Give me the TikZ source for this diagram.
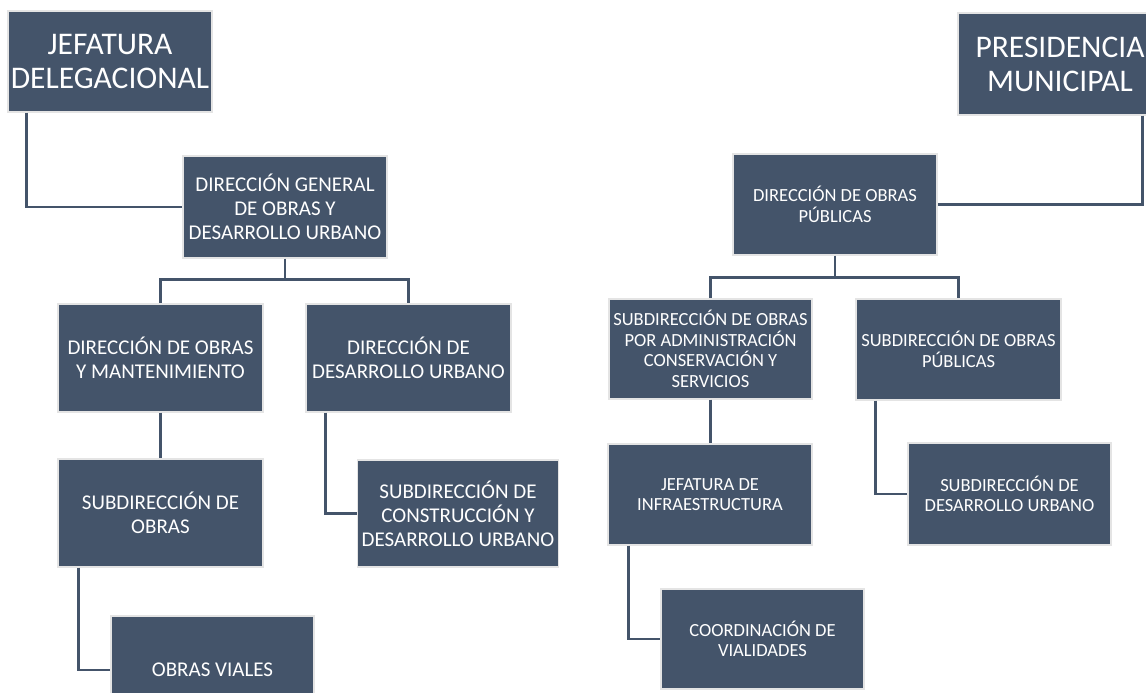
\documentclass[tikz,border=0pt]{standalone}
\usepackage{fontspec}
\setmainfont{Carlito}
\definecolor{boxfill}{HTML}{44546A}
\definecolor{boxedge}{HTML}{E4E4E4}
\definecolor{linecol}{HTML}{44546A}
\tikzset{
  orgbox/.style={rectangle, fill=boxfill, draw=boxedge, line width=1.4pt, text=white,
     align=center, inner sep=0pt, anchor=center},
  bigtxt/.style={font=\fontsize{31.5}{34}\selectfont},
  midtxt/.style={font=\fontsize{21}{24}\selectfont},
  smalltxt/.style={font=\fontsize{18.5}{20.5}\selectfont},
  wire/.style={draw=linecol, line width=2.6pt}
}
\begin{document}
\begin{tikzpicture}[x=1pt,y=-1pt]
\useasboundingbox (0,0) rectangle (1146,693);
\clip (0,0) rectangle (1146,693);
% left tree
\node[orgbox,bigtxt,minimum width=204pt,minimum height=101pt] (jd) at (110,61.5) {JEFATURA\\DELEGACIONAL};
\node[orgbox,midtxt,minimum width=204pt,minimum height=102pt] (dg) at (285,207) {DIRECCIÓN GENERAL\\DE OBRAS Y\\DESARROLLO URBANO};
\node[orgbox,midtxt,minimum width=205pt,minimum height=108pt] (dom) at (160.5,358) {DIRECCIÓN DE OBRAS\\Y MANTENIMIENTO};
\node[orgbox,midtxt,minimum width=205pt,minimum height=108pt] (ddu) at (408.5,358) {DIRECCIÓN DE\\DESARROLLO URBANO};
\node[orgbox,midtxt,minimum width=205pt,minimum height=108pt] (so) at (160.5,513) {SUBDIRECCIÓN DE\\OBRAS};
\node[orgbox,midtxt,minimum width=201pt,minimum height=107pt] (scdu) at (458,513.5) {SUBDIRECCIÓN DE\\CONSTRUCCIÓN Y\\DESARROLLO URBANO};
\node[orgbox,midtxt,minimum width=203pt,minimum height=108pt] (ov) at (212.5,670) {OBRAS VIALES};
% right tree
\node[orgbox,bigtxt,minimum width=204pt,minimum height=102pt] (pm) at (1060,64) {PRESIDENCIA\\MUNICIPAL};
\node[orgbox,smalltxt,minimum width=204pt,minimum height=101pt] (dop) at (835,204.5) {DIRECCIÓN DE OBRAS\\PÚBLICAS};
\node[orgbox,smalltxt,minimum width=203pt,minimum height=100pt] (soac) at (710.5,349) {SUBDIRECCIÓN DE OBRAS\\POR ADMINISTRACIÓN\\CONSERVACIÓN Y\\SERVICIOS};
\node[orgbox,smalltxt,minimum width=205pt,minimum height=101pt] (sop) at (958.5,349.5) {SUBDIRECCIÓN DE OBRAS\\PÚBLICAS};
\node[orgbox,smalltxt,minimum width=204pt,minimum height=101pt] (ji) at (710,494.5) {JEFATURA DE\\INFRAESTRUCTURA};
\node[orgbox,smalltxt,minimum width=203pt,minimum height=100pt] (cv) at (762.5,639) {COORDINACIÓN DE\\VIALIDADES};
\node[orgbox,smalltxt,minimum width=203pt,minimum height=102pt] (sdu) at (1009.5,494) {SUBDIRECCIÓN DE\\DESARROLLO URBANO};
% connectors left
\draw[wire] ([xshift=19pt]jd.south west) |- (dg.west);
\draw[wire] (dg.south) -- ++(0,21) coordinate (dgbar) -| (dom.north);
\draw[wire] (dgbar) -| (ddu.north);
\draw[wire] (dom.south) -- (so.north);
\draw[wire] ([xshift=20pt]ddu.south west) |- (scdu.west);
\draw[wire] ([xshift=21pt]so.south west) |- (ov.west);
% connectors right
\draw[wire] ([xshift=-20pt]pm.south east) |- (dop.east);
\draw[wire] (dop.south) -- ++(0,22) coordinate (dopbar) -| (soac.north);
\draw[wire] (dopbar) -| (sop.north);
\draw[wire] (soac.south) -- (soac.south |- ji.north);
\draw[wire] ([xshift=21pt]ji.south west) |- (cv.west);
\draw[wire] ([xshift=20pt]sop.south west) |- (sdu.west);
\end{tikzpicture}
\end{document}
